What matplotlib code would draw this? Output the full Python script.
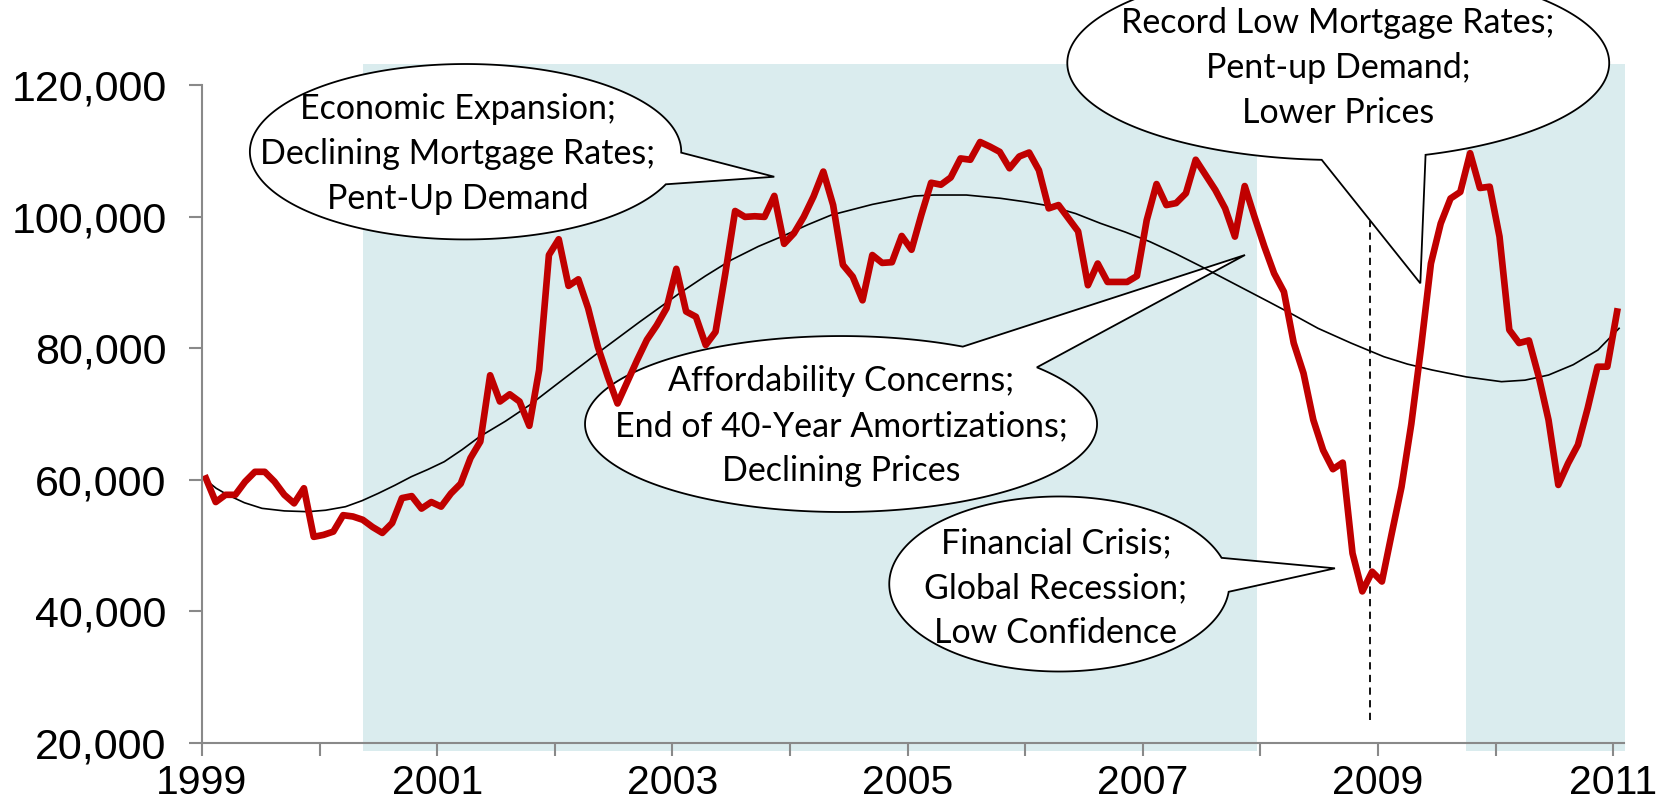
import numpy as np
import matplotlib
matplotlib.use("Agg")
import matplotlib.pyplot as plt
from matplotlib.patches import Polygon, Rectangle
from matplotlib.ticker import FuncFormatter, FixedLocator

# ---------------- data ----------------
first_year = 1999
sales = [
    60200, 56600, 57700, 57700, 59700, 61200, 61200, 59700, 57700, 56400, 58700, 51300,   # 1999
    51600, 52100, 54600, 54400, 53900, 52800, 51900, 53400, 57200, 57500, 55600, 56600,   # 2000
    55900, 57900, 59400, 63300, 65800, 75900, 71900, 73000, 71900, 68200, 76700, 94200,   # 2001
    96600, 89500, 90500, 86100, 80200, 75700, 71600, 74900, 78200, 81300, 83500, 86100,   # 2002
    92100, 85600, 84800, 80500, 82500, 91400, 100900, 100000, 100100, 100000, 103200, 95900,  # 2003
    97500, 100000, 103100, 106900, 101800, 92700, 90900, 87300, 94200, 93000, 93100, 97100,   # 2004
    95000, 100300, 105200, 104900, 106000, 108900, 108700, 111400, 110700, 109900, 107400, 109200,  # 2005
    109800, 107100, 101300, 101800, 99800, 97800, 89600, 92900, 90100, 90100, 90100, 91000,  # 2006
    99500, 105000, 101800, 102100, 103600, 108700, 106400, 104100, 101300, 97000, 104700, 100000,  # 2007
    95500, 91400, 88600, 80800, 76200, 69100, 64500, 61600, 62600, 48800, 43000, 46000,   # 2008
    44500, 51800, 58900, 68500, 80200, 92900, 99000, 102800, 103800, 109700, 104400, 104600,  # 2009
    97000, 82800, 80800, 81200, 75700, 69100, 59200, 62500, 65300, 70900, 77200, 77200,   # 2010
    85600,                                                                                # 2011
]
month_pos = 0.4  # position of each monthly point within its month

trend_x = [1999.03, 1999.12, 1999.22, 1999.36, 1999.51, 1999.70, 1999.90, 2000.05,
           2000.22, 2000.36, 2000.50, 2000.64, 2000.78, 2000.92, 2001.06, 2001.21,
           2001.36, 2001.58, 2001.79, 2002.08, 2002.38, 2002.72, 2003.06, 2003.28,
           2003.50, 2003.73, 2003.96, 2004.15, 2004.35, 2004.70, 2005.06, 2005.22,
           2005.50, 2005.79, 2006.00, 2006.21, 2006.43, 2006.64, 2006.85, 2007.06,
           2007.28, 2007.50, 2007.78, 2008.07, 2008.28, 2008.49, 2008.77, 2009.05,
           2009.25, 2009.46, 2009.75, 2010.05, 2010.25, 2010.45, 2010.66, 2010.87,
           2011.05]
trend_y = [60000, 58700, 57670, 56500, 55640, 55250, 55130, 55350,
           55890, 56800, 57930, 59150, 60460, 61550, 62740, 64550,
           66540, 68900, 71410, 75400, 79480, 84000, 88370, 91000,
           93440, 95500, 97240, 98800, 100280, 101900, 103180, 103330,
           103330, 102830, 102300, 101660, 100500, 99020, 97700, 96230,
           94400, 92420, 89800, 87090, 85100, 83040, 80800, 78720,
           77600, 76700, 75650, 74920, 75150, 75930, 77500, 79740,
           83040]

shade_start = [2000.37, 2009.75]
shade_end = [2007.97, 2011.10]
shade_top = 123200
shade_bottom = 18750

crisis_year = 2008.93
crisis_top = 99300
crisis_bottom = 23400

y_ticks = [20000, 40000, 60000, 80000, 100000, 120000]
x_ticks = list(range(1999, 2012))
x_labels = ["1999", "", "2001", "", "2003", "", "2005", "", "2007", "", "2009", "", "2011"]

callout_texts = [
    "Economic Expansion;\nDeclining Mortgage Rates;\nPent-Up Demand",
    "Affordability Concerns;\nEnd of 40-Year Amortizations;\nDeclining Prices",
    "Record Low Mortgage Rates;\nPent-up Demand;\nLower Prices",
    "Financial Crisis;\nGlobal Recession;\nLow Confidence",
]
# ellipse centre (year, value), semi axes (years, value), tail base angles (deg), tail tip, text centre
callout_center = [(2001.241, 109920), (2004.434, 68475), (2008.662, 123420), (2006.29, 44125)]
callout_semi = [(1.834, 13350), (2.177, 13390), (2.304, 14760), (1.446, 13320)]
callout_tail = [(-21.8, -0.6), (40.1, 61.6), (-93.5, -71.2), (-5.1, 17.4)]
callout_tip = [(2003.866, 106110), (2007.869, 94200), (2009.36, 89890), (2008.634, 46510)]
callout_text_at = [(2001.177, 109600), (2004.434, 68200), (2008.66, 122700), (2006.26, 43500)]

# ---------------- figure ----------------
RED = "#C00000"
SHADE = "#DAECEE"
AXIS = "#898989"

fig = plt.figure(figsize=(16.75, 8), dpi=100)
ax = fig.add_axes([0.1206, 0.071875, 0.84896, 0.82125])
ax.set_xlim(1999, 2011.092)
ax.set_ylim(20000, 120000)

for s, e in zip(shade_start, shade_end):
    ax.add_patch(Rectangle((s, shade_bottom), e - s, shade_top - shade_bottom,
                           facecolor=SHADE, edgecolor="none", zorder=0, clip_on=False))

for txt, c, semi, tail, tip, tp in zip(callout_texts, callout_center, callout_semi,
                                       callout_tail, callout_tip, callout_text_at):
    t1, t2 = tail
    ang = np.radians(np.linspace(t2, t1 + 360, 400))
    xs = c[0] + semi[0] * np.cos(ang)
    ys = c[1] + semi[1] * np.sin(ang)
    pts = np.column_stack([np.append(xs, tip[0]), np.append(ys, tip[1])])
    ax.add_patch(Polygon(pts, closed=True, facecolor="white", edgecolor="black",
                         linewidth=1.3, zorder=1, clip_on=False, joinstyle="miter"))
    ax.text(tp[0], tp[1], txt, ha="center", va="center", fontsize=24.5,
            family="Lato", linespacing=1.5, zorder=5, clip_on=False)

ax.plot(trend_x, trend_y, color="black", linewidth=1.2, zorder=2)

x = first_year + (np.arange(len(sales)) + month_pos) / 12.0
ax.plot(x, sales, color=RED, linewidth=4.8, zorder=3, solid_joinstyle="round")

ax.plot([crisis_year, crisis_year], [crisis_bottom, crisis_top], color="black",
        linewidth=1.3, linestyle=(0, (4, 3)), zorder=2)

for sp in ["top", "right"]:
    ax.spines[sp].set_visible(False)
for sp in ["left", "bottom"]:
    ax.spines[sp].set_color(AXIS)
    ax.spines[sp].set_linewidth(1.5)
    ax.spines[sp].set_zorder(4)

ax.yaxis.set_major_locator(FixedLocator(y_ticks))
ax.yaxis.set_major_formatter(FuncFormatter(lambda v, p: f"{int(v):,}"))
ax.xaxis.set_major_locator(FixedLocator(x_ticks))
ax.set_xticklabels(x_labels)
ax.tick_params(axis="both", colors=AXIS, width=1.5, length=9.5, labelcolor="black")
ax.tick_params(axis="y", pad=16, labelsize=31)
ax.tick_params(axis="x", pad=6, labelsize=29.5)
for lab in ax.get_xticklabels() + ax.get_yticklabels():
    lab.set_family("Liberation Sans")

fig.savefig("out.png", dpi=100)
